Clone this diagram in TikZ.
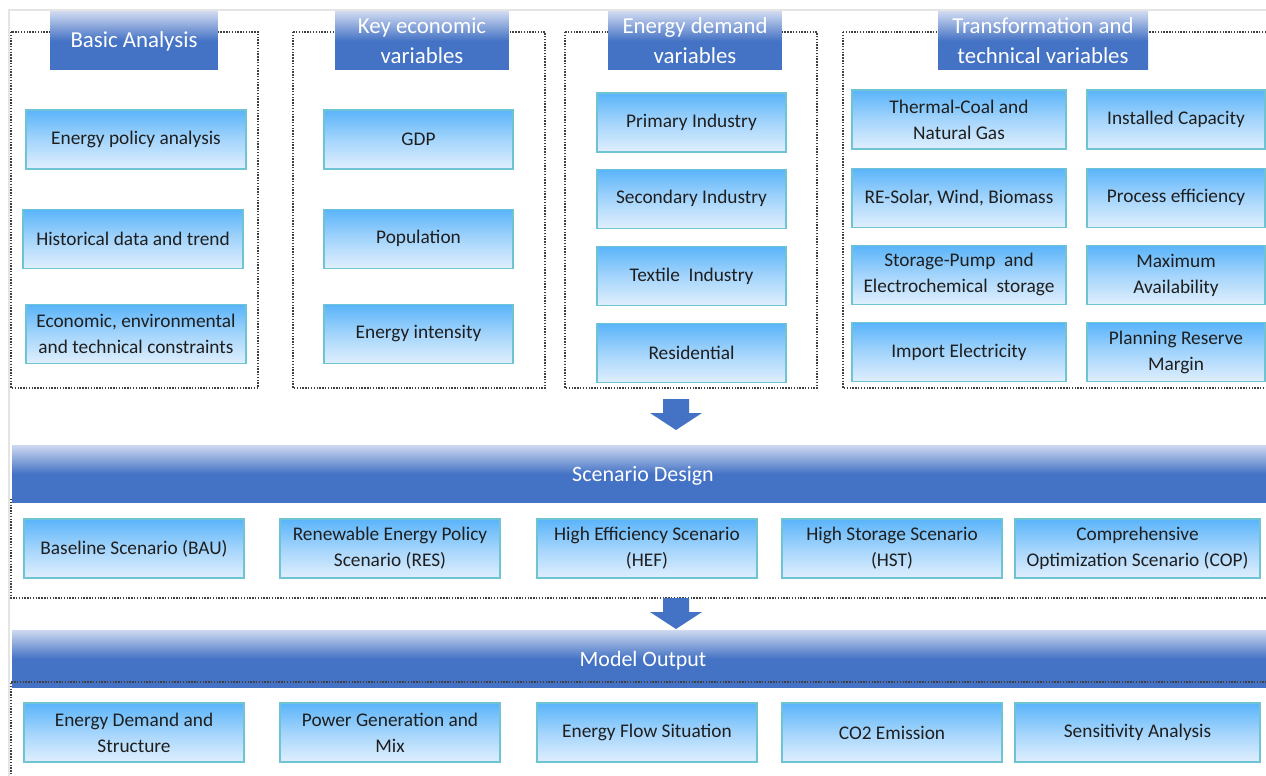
\documentclass[tikz,border=0pt]{standalone}
\usepackage{fontspec}
\setmainfont{Carlito}
\usepackage{xcolor}
\usetikzlibrary{positioning}

\definecolor{bandblue}{RGB}{68,114,196}
\definecolor{bandtop}{RGB}{205,216,240}
\definecolor{itemtop}{RGB}{90,180,250}
\definecolor{itembot}{RGB}{224,239,253}
\definecolor{itemline}{RGB}{110,196,210}
\definecolor{framegray}{RGB}{228,228,228}

\begin{document}
\begin{tikzpicture}[
  x=0.02cm, y=-0.02cm,
  item/.style={draw=itemline, line width=0.7pt, top color=itemtop, bottom color=itembot,
              middle color=itemtop!45!itembot,
              minimum width=4.4cm, minimum height=1.18cm, inner sep=1pt,
              align=center, text=black!88, font=\fontsize{11}{14.8}\selectfont},
  title/.style={top color=bandtop, bottom color=bandblue, middle color=bandblue,
              minimum height=1.16cm, inner sep=1pt, align=center, text=white,
              font=\fontsize{13}{17}\selectfont},
  band/.style={top color=bandtop, bottom color=bandblue, middle color=bandblue,
              minimum width=25.24cm, minimum height=1.15cm, text=white,
              text height=1.05em, text depth=0.25em,
              font=\fontsize{12.5}{15}\selectfont},
  panel/.style={draw=black!75, line width=0.6pt, dash pattern=on 0.8pt off 0.8pt},
  bigarrow/.style={fill=bandblue, draw=none},
  node distance=0.8cm
]
\useasboundingbox (0,0) rectangle (1266,776);
\draw[framegray, line width=1.6pt] (9,776) -- (9,10) -- (1266,10);

% input panels
\draw[panel] (11,32) rectangle (258,388);
\draw[panel] (293,32) rectangle (545,388);
\draw[panel] (565,32) rectangle (817,388);
\draw[panel] (843,32) rectangle (1272,388);

\node[title, minimum width=3.36cm] (basic) at (134,41) {Basic Analysis};
\node[title, minimum width=3.48cm] (econ)  at (422,41) {Key economic\\variables};
\node[title, minimum width=3.48cm] (dem)   at (695,41) {Energy demand\\variables};
\node[title, minimum width=4.2cm]  (tech)  at (1043,41) {Transformation and\\technical variables};

% basic analysis
\node[item] (policy)  at (136,139.5) {Energy policy analysis};
\node[item] (hist)    [below=0.78cm of policy, xshift=-0.06cm] {Historical data and trend};
\node[item] (constr)  [below=0.7cm of hist, xshift=0.06cm] {Economic, environmental\\and technical constraints};

% key economic variables
\node[item, minimum width=3.78cm] (gdp)    at (418.5,139.5) {GDP};
\node[item, minimum width=3.78cm] (pop)    [below=0.78cm of gdp] {Population};
\node[item, minimum width=3.78cm] (intens) [below=0.7cm of pop] {Energy intensity};

% energy demand variables
\node[item, minimum width=3.78cm] (prim)  at (691.5,122.5) {Primary Industry};
\node[item, minimum width=3.78cm] (sec)   [below=0.32cm of prim] {Secondary Industry};
\node[item, minimum width=3.78cm] (text)  [below=0.34cm of sec] {Textile~ Industry};
\node[item, minimum width=3.78cm] (resid) [below=0.34cm of text] {Residential};

% transformation and technical variables
\node[item, minimum width=4.28cm] (thermal) at (959,119.5) {Thermal-Coal and\\Natural Gas};
\node[item, minimum width=4.28cm] (res)     [below=0.36cm of thermal] {RE-Solar, Wind, Biomass};
\node[item, minimum width=4.28cm] (stor)    [below=0.34cm of res] {Storage-Pump~ and\\Electrochemical~ storage};
\node[item, minimum width=4.28cm] (import)  [below=0.34cm of stor] {Import Electricity};
\node[item, minimum width=3.56cm] (cap)     at (1176,119.5) {Installed Capacity};
\node[item, minimum width=3.56cm] (eff)     [below=0.36cm of cap] {Process efficiency};
\node[item, minimum width=3.56cm] (avail)   [below=0.34cm of eff] {Maximum\\Availability};
\node[item, minimum width=3.56cm] (margin)  [below=0.34cm of avail] {Planning Reserve\\Margin};

\fill[bigarrow] (663,399) -- (689,399) -- (689,413) -- (702,413) -- (676,430)
  -- (650,413) -- (663,413) -- cycle;

% scenario design
\draw[panel] (11,499) -- (11,598) -- (1272,598);
\node[band] (scen) at (643,474) {Scenario Design};
\node[item] (bau) at (134,548.5) {Baseline Scenario (BAU)};
\node[item] (rsc) at (390,548.5) {Renewable Energy Policy\\Scenario (RES)};
\node[item] (hef) at (647,548.5) {High Efficiency Scenario\\(HEF)};
\node[item] (hst) at (892,548.5) {High Storage Scenario\\(HST)};
\node[item, minimum width=4.9cm] (cop) at (1137.5,548.5) {Comprehensive\\Optimization Scenario (COP)};

\fill[bigarrow] (663,598) -- (689,598) -- (689,612) -- (702,612) -- (676,629)
  -- (650,612) -- (663,612) -- cycle;

% model output
\node[band] (outp) at (643,659) {Model Output};
\draw[panel] (11,780) -- (11,682) -- (1272,682);
\node[item] (dstruct) at (134,732.5) {Energy Demand and\\Structure};
\node[item] (pgen)    at (390,732.5) {Power Generation and\\Mix};
\node[item] (flow)    at (647,732.5) {Energy Flow Situation};
\node[item] (co2)     at (892,732.5) {CO2 Emission};
\node[item, minimum width=4.9cm] (sens) at (1137.5,732.5) {Sensitivity Analysis};
\end{tikzpicture}
\end{document}
